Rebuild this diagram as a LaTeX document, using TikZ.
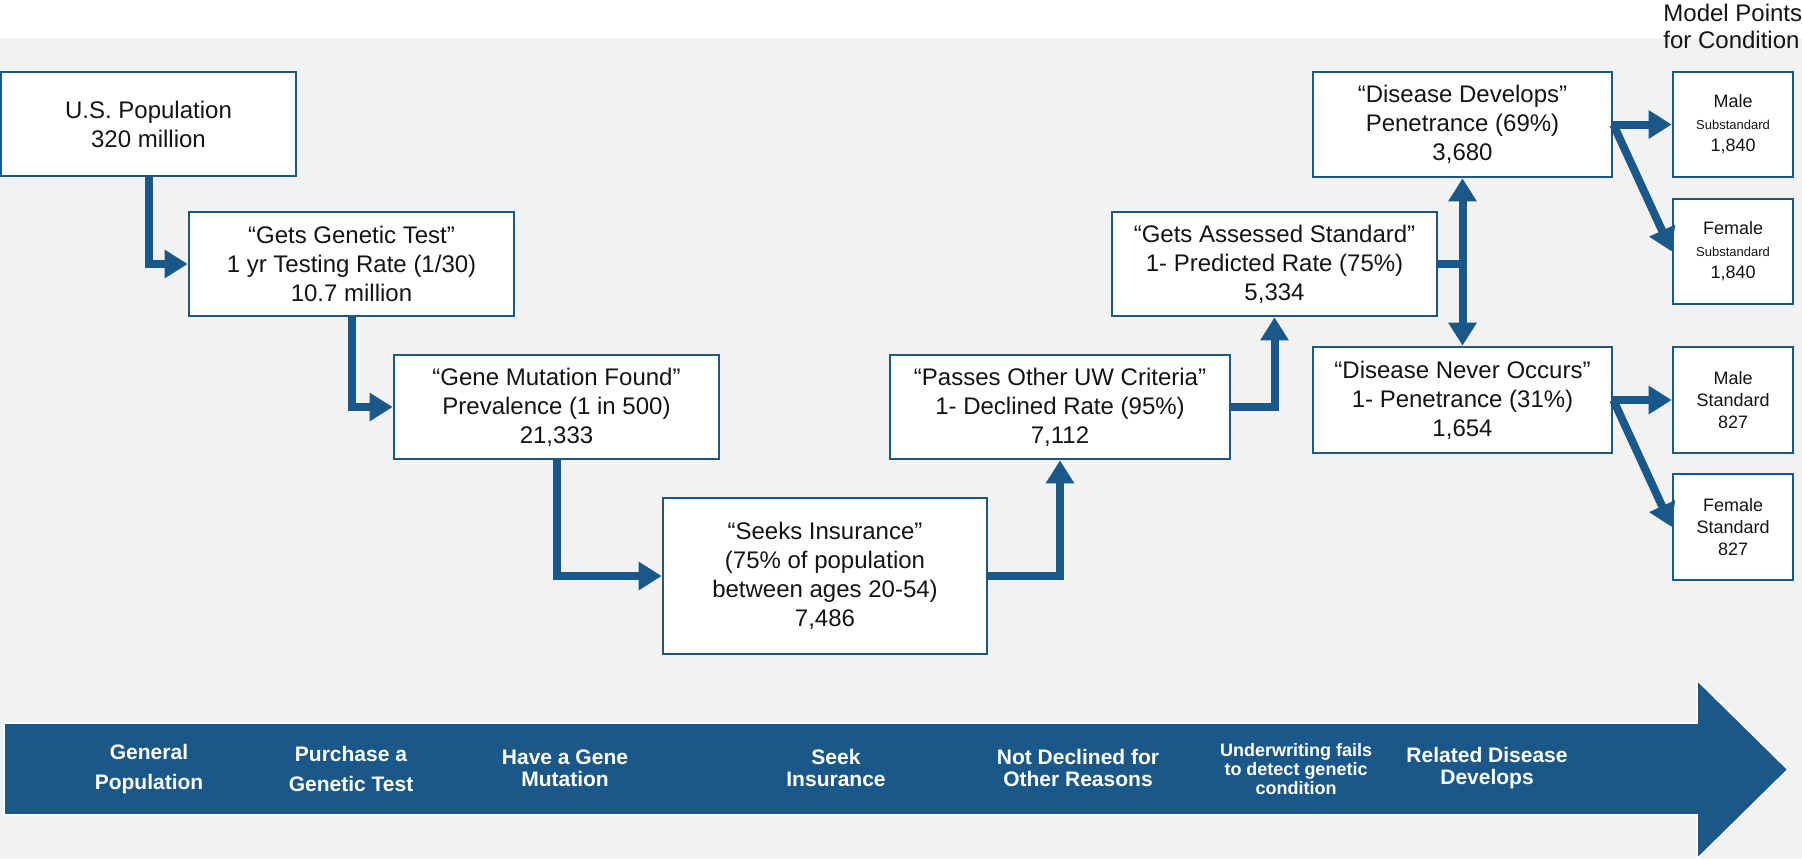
\documentclass[tikz,border=0pt]{standalone}
\usepackage{fontspec}
\setmainfont{Liberation Sans}
\usetikzlibrary{arrows.meta,positioning}
\definecolor{steel}{RGB}{26,88,138}
\definecolor{paper}{RGB}{242,242,242}
\definecolor{ink}{RGB}{20,20,20}
\tikzset{
  >={Triangle[length=11.5pt,width=13.5pt]},
  box/.style={draw=steel,fill=white,line width=1.3pt,align=center,
    minimum width=#1,minimum height=52pt,inner sep=2pt,
    font=\fontsize{12}{14.5}\selectfont,text=ink},
  box/.default=162.5pt,
  point/.style={box=60pt,minimum height=52.5pt,font=\fontsize{9}{11}\selectfont},
  flow/.style={->,line width=4pt,draw=steel},
  stage/.style={text=white,align=center,font=\fontsize{10.5}{#1}\selectfont\bfseries},
  stage/.default=11pt,
}
\newcommand{\subtag}[1]{{\fontsize{6.5}{9}\selectfont #1}}

\begin{document}
\begin{tikzpicture}[x=0.5pt,y=-0.5pt]
    \useasboundingbox (0,0) rectangle (1802,859);
    \fill[paper] (0,38) rectangle (1802,859);
    % stage ribbon
    \fill[steel,draw=white,line width=0.8pt] (4,723) -- (1697,723) -- (1697,680) -- (1788,769.5)
      -- (1697,859) -- (1697,815) -- (4,815) -- cycle;
    \node[box=147.5pt] (us) at (148.5,124) {U.S. Population\\320 million};
    \node[box] (gt) at (351.5,264) {“Gets Genetic Test”\\1 yr Testing Rate (1/30)\\10.7 million};
    \node[box] (gm) at (556.5,407) {“Gene Mutation Found”\\Prevalence (1 in 500)\\21,333};
    \node[box=162pt,minimum height=78pt] (si) at (825,576) {“Seeks Insurance”\\(75\% of population\\between ages 20-54)\\7,486};
    \node[box=170pt] (pu) at (1060,407) {“Passes Other UW Criteria”\\1- Declined Rate (95\%)\\7,112};
    \node[box] (ga) at (1274.5,264) {“Gets Assessed Standard”\\1- Predicted Rate (75\%)\\5,334};
    \node[box=149.5pt,minimum height=52.5pt] (dd) at (1462.5,124.5) {“Disease Develops”\\Penetrance (69\%)\\3,680};
    \node[box=149.5pt,minimum height=53pt] (dn) at (1462.5,400) {“Disease Never Occurs”\\1- Penetrance (31\%)\\1,654};
    \node[point] (ms) at (1733,124.5) {Male\\\subtag{Substandard}\\1,840};
    \node[point] (fs) at (1733,251.5) {Female\\\subtag{Substandard}\\1,840};
    \node[point,minimum height=53pt] (mst) at (1733,400) {Male\\Standard\\827};
    \node[point,minimum height=53pt] (fst) at (1733,527) {Female\\Standard\\827};
    \node[anchor=west,align=left,inner sep=0pt,text=ink,font=\fontsize{12}{13.5}\selectfont] (mp) at (1663,26.5) {Model Points\\for Condition};
    \draw[flow] (us) |- (gt); \draw[flow] (gt) |- (gm); \draw[flow] (gm) |- (si);
    \draw[flow] (si) -| (pu); \draw[flow] (pu) -| (ga);
    \draw[flow] (ga.east) -| (dd.south); \draw[flow] (ga.east) -| (dn.north);
    \draw[flow] (dd.east) -- (ms); \draw[flow] (dd.east) -- (fs.west);
    \draw[flow] (dn.east) -- (mst); \draw[flow] (dn.east) -- (fst.west);
    \node[stage=15pt] (s1) at (149,769) {General\\Population};
    \node[stage=15pt] (s2) at (351,769) {Purchase a\\Genetic Test};
    \node[stage] (s3) at (565,768) {Have a Gene\\Mutation};
    \node[stage] (s4) at (836,768) {Seek\\Insurance};
    \node[stage] (s5) at (1078,768) {Not Declined for\\Other Reasons};
    \node[stage,font=\fontsize{9}{9.5}\selectfont\bfseries] (s6) at (1296,769) {Underwriting fails\\to detect genetic\\condition};
    \node[stage] (s7) at (1487,768) {Related Disease\\Develops};
  \end{tikzpicture}
\end{document}
